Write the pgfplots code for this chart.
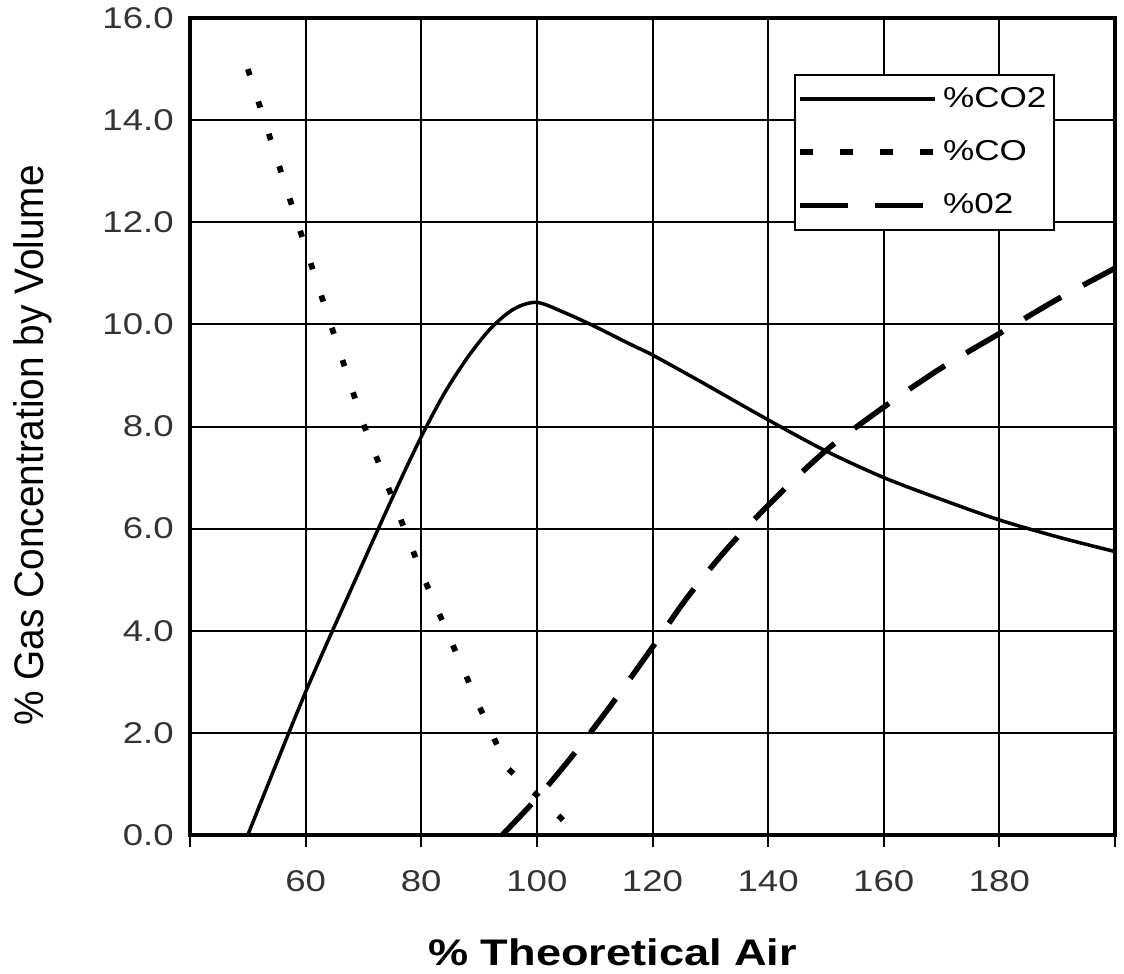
\documentclass[border=0pt]{standalone}
\usepackage{fontspec}
\setmainfont{Liberation Sans}[FakeStretch=1.22]
\newfontfamily\ylabfont{Liberation Sans}[FakeStretch=0.94]
\usepackage{pgfplots}
\pgfplotsset{compat=1.18}

\begin{document}
\begin{tikzpicture}
\useasboundingbox (0,0) rectangle (449.6pt,389.2pt);
\begin{axis}[at={(76pt,55.2pt)}, anchor=south west, scale only axis,
  width=370pt, height=326.8pt,
  xmin=40, xmax=200, ymin=0, ymax=16,
  xtick={40,60,...,200}, xticklabels={,60,80,100,120,140,160,180,},
  ytick={0,2,...,16},
  /pgf/number format/assume math mode=true,
  yticklabel style={/pgf/number format/fixed, /pgf/number format/fixed zerofill,
    /pgf/number format/precision=1, xshift=-3pt},
  xticklabel style={yshift=-6pt},
  tick label style={font=\fontsize{12}{14}\selectfont, text=black!80},
  xtick align=outside, ytick align=inside, xtick pos=bottom, ytick pos=left,
  major tick length=4.8pt, tick style={black, line width=0.8pt},
  grid=major, major grid style={black, line width=0.8pt},
  axis line style={black, line width=1.6pt},
  xlabel={\bfseries\fontsize{14.8}{16}\selectfont \% Theoretical Air},
  xlabel style={at={(axis description cs:0.457,-0.143)}, anchor=center},
  ylabel={\ylabfont\fontsize{16.5}{18}\selectfont \% Gas Concentration by Volume},
  ylabel style={at={(axis description cs:-0.170,0.477)}, anchor=center},
  legend style={at={(0.935,0.932)}, anchor=north east, draw=black, line width=0.8pt,
    font=\fontsize{11.5}{13}\selectfont, row sep=7.8pt, inner xsep=1pt, inner ysep=3pt,
    nodes={inner sep=2pt}},
  legend cell align=left,
  legend image code/.code={\draw[#1] (0pt,0pt) -- (54pt,0pt);}]

% %CO2
\addplot[black, line width=1.4pt, smooth, forget plot] coordinates {
  (50,0) (60,2.8) (70,5.35) (76,6.85) (80,7.8) (84,8.65) (88,9.35) (92,9.92) (96,10.3) (100,10.43)
  (105,10.22) (110,9.96) (116,9.62) (120,9.4) (128,8.9) (140,8.13) (150,7.52)
  (160,7.0) (170,6.57) (180,6.17) (190,5.84) (200,5.55)};
% %CO
\addplot[black, line width=2.3pt, dash pattern=on 2.6pt off 11pt, forget plot] coordinates {
  (50,15.0) (60,11.5) (70,8.05) (80,5.15) (90,2.53) (95,1.3) (100,0.78) (104,0.35) (107,0)};
% %O2
\addplot[black, line width=2.2pt, dash pattern=on 17pt off 10pt, smooth, forget plot] coordinates {
  (94,0) (100,0.72) (106,1.53) (113,2.57) (120,3.68) (126,4.65) (133,5.62) (141,6.57)
  (150,7.53) (160,8.38) (170,9.15) (180,9.82) (190,10.49) (200,11.1)};

\addlegendimage{black, line width=1.6pt}
\addlegendentry{\%CO2}
\addlegendimage{black, line width=2.4pt, dash pattern=on 5pt off 11pt}
\addlegendentry{\%CO}
\addlegendimage{black, line width=2.2pt, dash pattern=on 19pt off 11pt}
\addlegendentry{\%02}
\end{axis}
\end{tikzpicture}
\end{document}
